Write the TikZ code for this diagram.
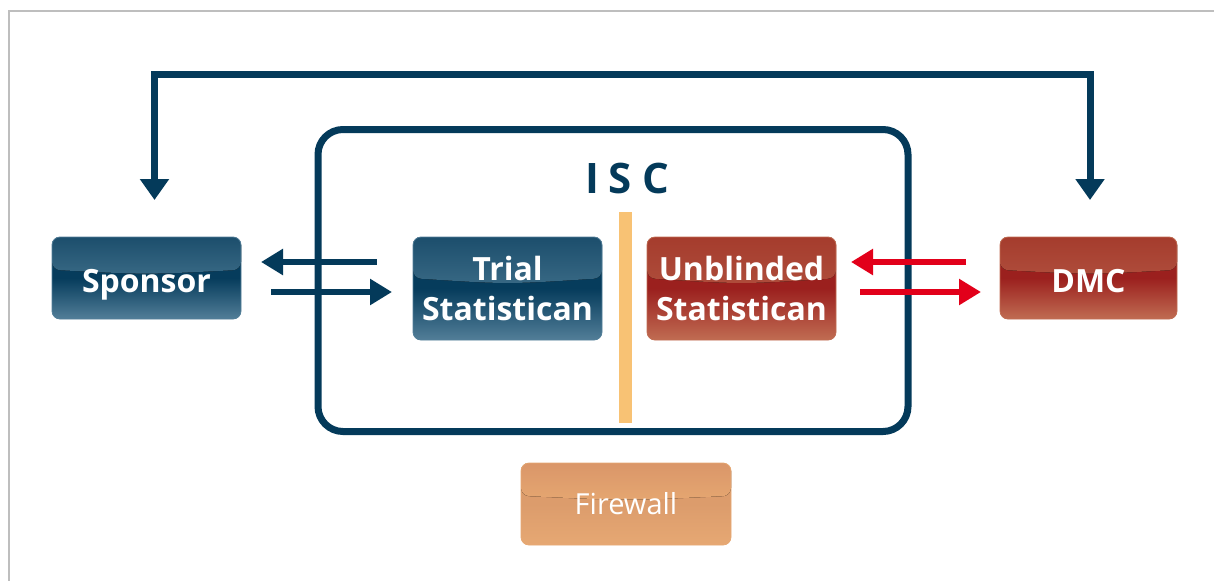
\documentclass[tikz,border=0pt]{standalone}
\usepackage{fontspec}
\setmainfont{Open Sans}
\usetikzlibrary{arrows.meta,calc}

\definecolor{navy}{RGB}{4,58,90}
\definecolor{signalred}{RGB}{226,0,26}
\definecolor{wallorange}{RGB}{248,194,116}
\definecolor{rulegray}{RGB}{190,190,190}
\definecolor{blueTop}{RGB}{28,78,108}
\definecolor{blueBand}{RGB}{88,135,160}
\definecolor{blueMid}{RGB}{6,60,92}
\definecolor{blueBot}{RGB}{82,126,152}
\definecolor{redTop}{RGB}{165,60,45}
\definecolor{redBand}{RGB}{185,95,75}
\definecolor{redMid}{RGB}{155,32,30}
\definecolor{redBot}{RGB}{192,108,82}
\definecolor{wallTop}{RGB}{218,150,105}
\definecolor{wallBand}{RGB}{242,186,122}
\definecolor{wallMid}{RGB}{220,156,108}
\definecolor{wallBot}{RGB}{230,168,115}

\tikzset{
  glossbox/.style n args={4}{rounded corners=8pt, inner sep=0pt, outer sep=0pt,
    draw=#4, line width=0.8pt, text=white, align=center,
    font=\bfseries\fontsize{32}{40}\selectfont,
    top color=#3, bottom color=#4, middle color=#3,
    path picture={
      \fill[top color=#1, bottom color=#2]
        (path picture bounding box.north west) -- (path picture bounding box.north east)
        -- ($(path picture bounding box.north east)!.4!(path picture bounding box.south east)$)
        .. controls ($(path picture bounding box.north)!.46!(path picture bounding box.south)$) ..
        ($(path picture bounding box.north west)!.4!(path picture bounding box.south west)$) -- cycle;
    }},
  bluebox/.style={glossbox={blueTop}{blueBand}{blueMid}{blueBot}},
  redbox/.style={glossbox={redTop}{redBand}{redMid}{redBot}},
  wallbox/.style={glossbox={wallTop}{wallBand}{wallMid}{wallBot},
    font=\mdseries\fontsize{29}{29}\selectfont, text height=20pt, text depth=0pt},
  oneline/.style={text height=28pt, text depth=0pt},
  iscframe/.style={draw=navy, line width=7pt, rounded corners=25pt, inner sep=0pt, outer sep=0pt},
  navyarrow/.style={draw=navy, line width=6.5pt, -{Triangle[length=22pt,width=25pt]}},
  redarrow/.style={draw=signalred, line width=6.5pt, -{Triangle[length=22pt,width=25pt]}},
  looparrow/.style={draw=navy, line width=7pt, line join=miter,
    {Triangle[length=21pt,width=28pt]}-{Triangle[length=21pt,width=28pt]}}
}

\begin{document}
\begin{tikzpicture}[x=1pt, y=-1pt]
  \useasboundingbox (0,0) rectangle (1214,581);

  % frame of the page
  \draw[rulegray, line width=1.5pt] (1214,11) -- (9,11) -- (9,581);

  % independent statistical centre
  \node[iscframe, minimum width=590pt, minimum height=302pt] (isc) at (613,280.5) {};
  \node[anchor=base, text=navy, font=\bfseries\fontsize{42}{42}\selectfont\addfontfeatures{LetterSpace=24}]
    (isclabel) at ([xshift=14pt, yshift=-63.5pt]isc.north) {ISC};
  \fill[wallorange] (619,212) rectangle (631.5,423);

  % boxes
  \node[bluebox, oneline, minimum width=189pt, minimum height=82pt] (sponsor) at (146.5,278) {Sponsor};
  \node[bluebox, minimum width=189pt, minimum height=103pt] (trial) at (507.5,288.5) {Trial\\Statistican};
  \node[redbox, minimum width=189pt, minimum height=103pt] (unblind) at (741.5,288.5) {Unblinded\\Statistican};
  \node[redbox, oneline, minimum width=177pt, minimum height=82pt] (dmc) at (1088.5,278) {DMC};
  \node[wallbox, minimum width=210pt, minimum height=82pt] (firewall) at (626,504) {Firewall};

  % connectors
  \coordinate (top) at (620,74);
  \draw[looparrow] ([xshift=8pt, yshift=37pt]sponsor.north) |- (top) -| ([xshift=1.5pt, yshift=37pt]dmc.north);

  \draw[navyarrow] ([xshift=-36.5pt, yshift=26.5pt]trial.west) -- ([xshift=20pt, yshift=16pt]sponsor.east);
  \draw[navyarrow] ([xshift=30pt, yshift=-14pt]sponsor.east) -- ([xshift=-21pt, yshift=-3.5pt]trial.west);

  \draw[redarrow] ([xshift=-34pt, yshift=16pt]dmc.west) -- ([xshift=15pt, yshift=26.5pt]unblind.east);
  \draw[redarrow] ([xshift=24pt, yshift=-3.5pt]unblind.east) -- ([xshift=-19pt, yshift=-14pt]dmc.west);
\end{tikzpicture}
\end{document}
